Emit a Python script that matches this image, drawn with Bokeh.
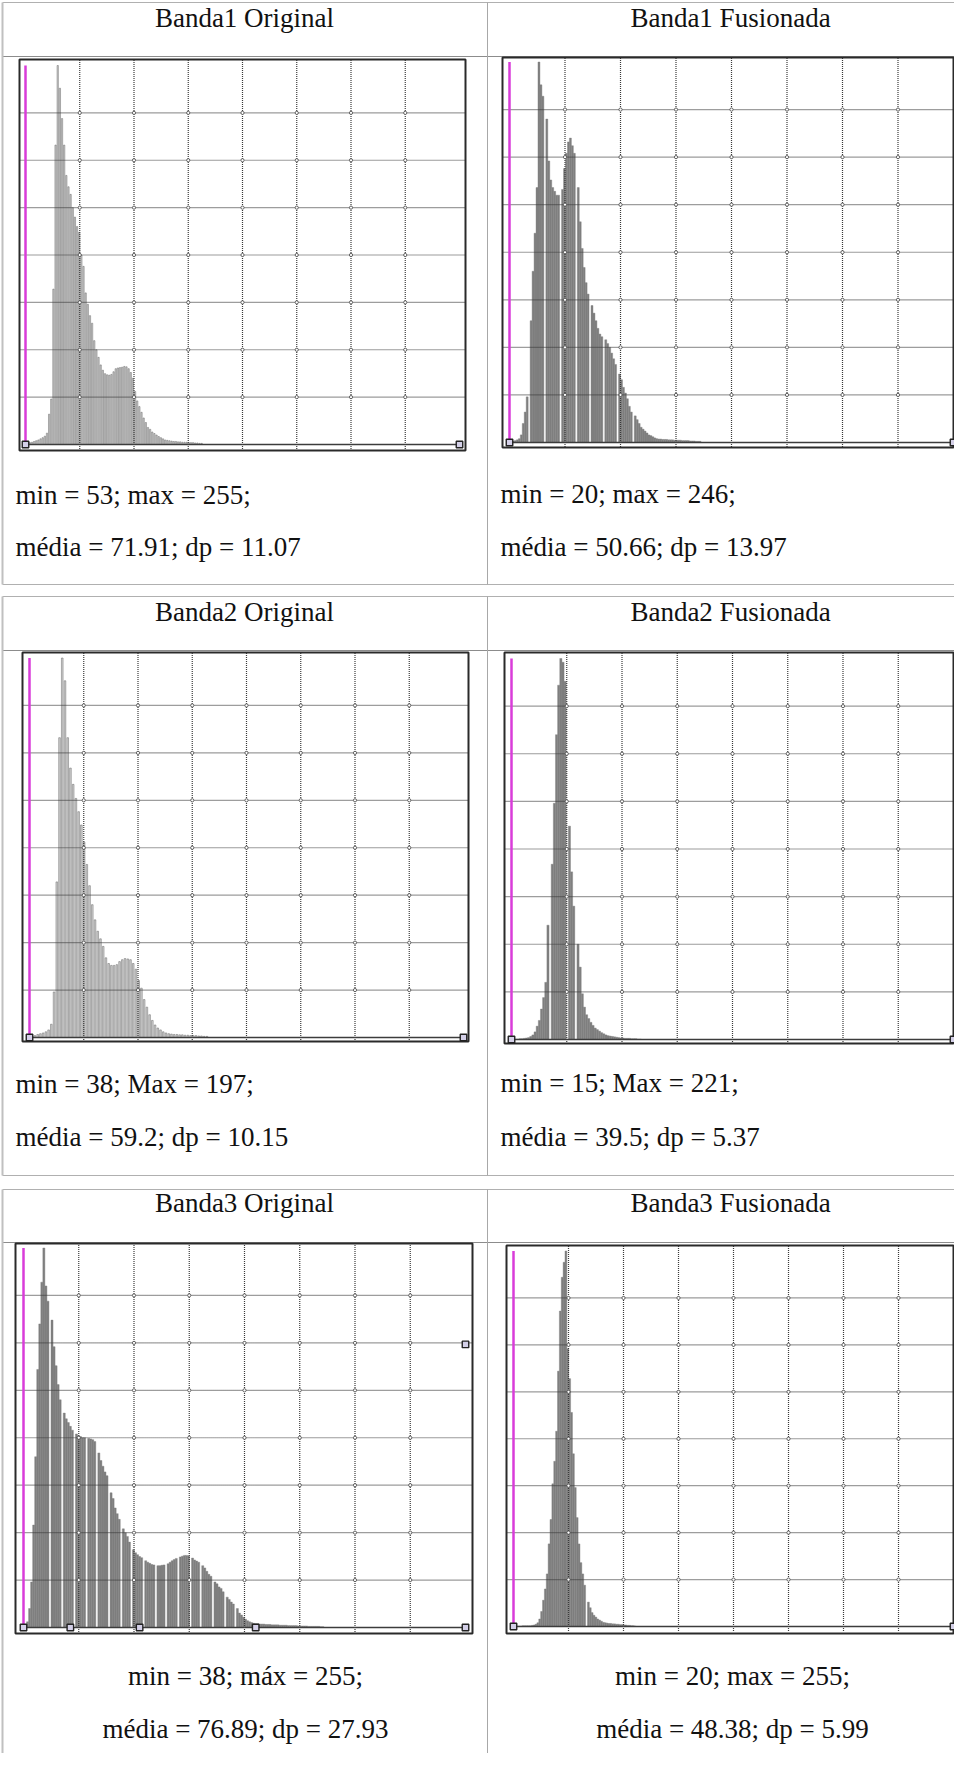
from bokeh.plotting import figure
from bokeh.models import Range1d
from bokeh.core.properties import value
from bokeh.embed import file_html
from bokeh.resources import INLINE

# ------------------------------------------------------------------ data
titles = ["Banda1 Original", "Banda1 Fusionada",
          "Banda2 Original", "Banda2 Fusionada",
          "Banda3 Original", "Banda3 Fusionada"]
band_min = [53, 20, 38, 15, 38, 20]
band_max = [255, 246, 197, 221, 255, 255]
stats_line1 = ["min = 53; max = 255;", "min = 20; max = 246;",
               "min = 38; Max = 197;", "min = 15; Max = 221;",
               "min = 38; máx = 255;", "min = 20; max = 255;"]
stats_line2 = ["média = 71.91; dp = 11.07", "média = 50.66; dp = 13.97",
               "média = 59.2; dp = 10.15", "média = 39.5; dp = 5.37",
               "média = 76.89; dp = 27.93", "média = 48.38; dp = 5.99"]

# relative frequency (fraction of the peak) per grey level, starting at band_min
hist_b1_original = [
    0, 0.004, 0.005, 0.006, 0.008, 0.01, 0.012, 0.015, 0.018, 0.022,
    0.03, 0.08, 0.12, 0.41, 0.79, 1.0, 0.94, 0.86, 0.79, 0.71,
    0.68, 0.66, 0.625, 0.6, 0.575, 0.56, 0.5, 0.47, 0.40, 0.37,
    0.34, 0.32, 0.274, 0.25, 0.23, 0.21, 0.196, 0.187, 0.184, 0.183,
    0.185, 0.192, 0.2, 0.202, 0.203, 0.204, 0.206, 0.205, 0.2, 0.19,
    0.175, 0.14, 0.115, 0.1, 0.085, 0.07, 0.058, 0.045, 0.04, 0.033,
    0.029, 0.025, 0.021, 0.018, 0.015, 0.012, 0.011, 0.01, 0.009, 0.008,
    0.008, 0.007, 0.007, 0.006, 0.006, 0.006, 0.005, 0.005, 0.005, 0.004,
    0.004, 0.003, 0.003]
hist_b1_fusionada = [
    0.002, 0.003, 0.004, 0.005, 0.007, 0.01, 0.02, 0.05, 0.08, 0.12,
    0, 0.32, 0.45, 0.55, 0.67, 1.0, 0.94, 0.91, 0, 0.85,
    0.74, 0.69, 0.67, 0.66, 0.65, 0.65, 0, 0.665, 0.72, 0.76,
    0.79, 0.80, 0.78, 0.76, 0, 0.67, 0.58, 0.51, 0.46, 0.42,
    0.39, 0, 0.36, 0.34, 0.32, 0.30, 0.285, 0.278, 0, 0.27,
    0.26, 0.25, 0.235, 0.22, 0.205, 0, 0.18, 0.165, 0.145, 0.13,
    0.115, 0.095, 0.08, 0, 0.07, 0.06, 0.05, 0.04, 0.035, 0.03,
    0.025, 0.02, 0.018, 0.015, 0.012, 0.01, 0.009, 0.009, 0.008, 0.008,
    0.008, 0.007, 0.007, 0.007, 0.006, 0.006, 0.006, 0.006, 0.005, 0.005,
    0.005, 0.005, 0.004, 0.004, 0.004, 0.003, 0.003, 0.003]
hist_b2_original = [
    0, 0.003, 0.005, 0.008, 0.01, 0.012, 0.015, 0.02, 0.035, 0.12,
    0.41, 0.79, 1.0, 0.94, 0.79, 0.71, 0.667, 0.63, 0.595, 0.56,
    0.515, 0.456, 0.40, 0.35, 0.31, 0.28, 0.26, 0.24, 0.21, 0.195,
    0.19, 0.19, 0.192, 0.2, 0.205, 0.208, 0.207, 0.205, 0.195, 0.18,
    0.15, 0.13, 0.1, 0.08, 0.06, 0.045, 0.033, 0.025, 0.02, 0.015,
    0.012, 0.01, 0.009, 0.008, 0.008, 0.007, 0.007, 0.006, 0.006, 0.005,
    0.005, 0.005, 0.004, 0.004, 0.003, 0.003]
hist_b2_fusionada = [
    0, 0.001, 0.001, 0.001, 0.002, 0.002, 0.003, 0.004, 0.005, 0.008,
    0.012, 0.02, 0.035, 0.05, 0.08, 0.11, 0.15, 0.3, 0, 0.46,
    0.62, 0.8, 0.93, 1.0, 0.99, 0.94, 0, 0.56, 0.44, 0.35,
    0, 0.25, 0.19, 0.12, 0.085, 0.065, 0.055, 0.045, 0.037, 0.03,
    0.026, 0.022, 0.018, 0.015, 0.012, 0.01, 0.009, 0.008, 0.007, 0.006,
    0.005, 0.004, 0.004, 0.003, 0.003, 0.003, 0.002, 0.002, 0.002, 0.001,
    0.001]
hist_b3_original = [
    0, 0.005, 0.015, 0.05, 0.12, 0.27, 0.45, 0.68, 0.8, 0.91,
    1.0, 0.9, 0.86, 0, 0.81, 0.74, 0.69, 0.64, 0.6, 0,
    0.565, 0.55, 0.54, 0.53, 0.52, 0, 0.51, 0.505, 0.503, 0.5,
    0.5, 0, 0.498, 0.497, 0.495, 0.49, 0, 0.46, 0.44, 0.425,
    0.41, 0.4, 0, 0.355, 0.34, 0.315, 0.3, 0.285, 0, 0.26,
    0.25, 0.24, 0.225, 0, 0.205, 0.197, 0.192, 0.187, 0.184, 0,
    0.176, 0.172, 0.169, 0.166, 0.165, 0, 0.163, 0.163, 0.164, 0.165,
    0, 0.168, 0.172, 0.176, 0.179, 0.182, 0, 0.186, 0.188, 0.19,
    0.19, 0.189, 0, 0.183, 0.178, 0.175, 0.172, 0, 0.163, 0.157,
    0.148, 0.14, 0.135, 0, 0.12, 0.115, 0.107, 0.103, 0.094, 0,
    0.08, 0.074, 0.067, 0.062, 0, 0.05, 0.038, 0.033, 0.027, 0.022,
    0.018, 0.015, 0.013, 0.011, 0.01, 0.01, 0.009, 0.009, 0.009, 0.008,
    0.008, 0.008, 0.007, 0.007, 0.007, 0.007, 0.006, 0.006, 0.006, 0.006,
    0.005, 0.005, 0.005, 0.005, 0.005, 0.004, 0.004, 0.004, 0.004, 0.004,
    0.003, 0.003, 0.003, 0.003, 0.003, 0.003, 0.002, 0.002]
hist_b3_fusionada = [
    0, 0.001, 0.001, 0.001, 0.001, 0.002, 0.002, 0.002, 0.002, 0.002,
    0.003, 0.004, 0.006, 0.01, 0.02, 0.04, 0.07, 0.1, 0.14, 0.22,
    0.285, 0.38, 0.44, 0.52, 0.68, 0.84, 0.93, 0.97, 1.0, 0.74,
    0.66, 0.57, 0.46, 0.37, 0.29, 0.22, 0.17, 0.14, 0.11, 0,
    0.065, 0.05, 0.037, 0.03, 0.025, 0.02, 0.017, 0.014, 0.011, 0.01,
    0.009, 0.008, 0.008, 0.007, 0.007, 0.006, 0.006, 0.005, 0.005, 0.004,
    0.004, 0.003, 0.003, 0.002, 0.002, 0.001]
histograms = [hist_b1_original, hist_b1_fusionada, hist_b2_original,
              hist_b2_fusionada, hist_b3_original, hist_b3_fusionada]
# extra slider handles visible on the Banda3 Original panel (grey levels)
b3_handle_levels = [61, 95, 152]
b3_side_handle = [255, 0.746]

# ------------------------------------------------------------------ layout / styles
M = 8
PAGE_W, PAGE_H = 954, 1753
X_LEFT, X_SEP, X_RIGHT = 10, 495, M + PAGE_W
ROW_TOP = [10, 604, 1197]
ROW_HEAD = [64, 658, 1250]
ROW_BOTTOM = [592, 1183, M + PAGE_H]
TEXT_SHIFT = 9
TITLE_X = [252, 738]
TITLE_BASE = [34 - TEXT_SHIFT, 628 - TEXT_SHIFT, 1219 - TEXT_SHIFT]
# data box (left px, right px, baseline px, top px) and outer frame (l, r, t, b)
DATA_BOX = [(33, 467, 452, 73), (517, 961, 450, 69.5),
            (37, 471, 1045, 665.5), (519, 961, 1047, 666),
            (31, 473, 1635, 1255.5), (521, 961, 1634, 1258.5)]
FRAME = [(27, 473, 67, 458), (510, 961, 65, 455),
         (30, 476, 660, 1049), (512, 961, 660, 1051),
         (23, 480, 1251, 1641), (514, 961, 1253, 1641)]
STATS_POS = [(23, 511, 563, "left"), (508, 510, 563, "left"),
             (23, 1100, 1153, "left"), (508, 1099, 1153, "left"),
             (253, 1692, 1745, "center"), (740, 1692, 1745, "center")]
LIGHT_BARS = [True, False, True, False, False, False]

FONT = value("Liberation Serif")
FSIZE = value("27px")
GRID_COLOR = "#3a3a3a"

p = figure(width=PAGE_W, height=PAGE_H,
           x_range=Range1d(M, M + PAGE_W), y_range=Range1d(M + PAGE_H, M),
           output_backend="svg", toolbar_location=None,
           x_axis_location=None, y_axis_location=None, min_border=0,
           outline_line_color=None, background_fill_color="white",
           border_fill_color="white")
p.grid.grid_line_color = None

# table lines
hx0, hx1, hy = [], [], []
for r in range(3):
    hx0 += [X_LEFT, X_LEFT]
    hx1 += [X_RIGHT, X_RIGHT]
    hy += [ROW_TOP[r], ROW_BOTTOM[r]]
p.segment(x0=hx0, y0=hy, x1=hx1, y1=hy, line_color="#b0b0b0", line_width=1)
p.segment(x0=[X_LEFT] * 3, y0=ROW_HEAD, x1=[X_RIGHT] * 3, y1=ROW_HEAD,
          line_color="#8c8c8c", line_width=1)
p.segment(x0=[X_LEFT] * 3, y0=ROW_TOP, x1=[X_LEFT] * 3, y1=ROW_BOTTOM,
          line_color="#c0c0c0", line_width=2)
p.segment(x0=[X_SEP] * 3, y0=ROW_TOP, x1=[X_SEP] * 3, y1=ROW_BOTTOM,
          line_color="#a8a8a8", line_width=1)

# titles
for c in range(2):
    p.text(x=[TITLE_X[c]] * 3, y=TITLE_BASE, text=[titles[c], titles[2 + c], titles[4 + c]],
           text_font=FONT, text_font_size=FSIZE, text_align="center",
           text_baseline="alphabetic", text_color="#111111")

# histogram panels
for i in range(6):
    lmin, lmax = band_min[i], band_max[i]
    x0, x1, yb, yt = DATA_BOX[i]
    fl, fr, ft, fb = FRAME[i]
    sx = (lmax - lmin) / (x1 - x0)
    sy = 1.0 / (yb - yt)
    xr, yr = f"hx{i}", f"hy{i}"
    p.extra_x_ranges[xr] = Range1d(lmin + (M - x0) * sx, lmin + (M + PAGE_W - x0) * sx)
    p.extra_y_ranges[yr] = Range1d((yb - (M + PAGE_H)) * sy, (yb - M) * sy)

    h = histograms[i]
    levels = [lmin + k for k in range(len(h))]
    if LIGHT_BARS[i]:
        p.vbar(x=levels, top=h, bottom=0, width=0.6, fill_color="#d2d2d2",
               line_color="#666666", line_width=0.5, x_range_name=xr, y_range_name=yr)
    else:
        p.vbar(x=levels, top=h, bottom=0, width=1.0, fill_color="#7f7f7f",
               line_color="#7f7f7f", line_width=0.4, x_range_name=xr, y_range_name=yr)

    # dotted grid: 8 x 8 cells
    step = (lmax - lmin) / 8.0
    gx = [lmin + k * step for k in range(1, 8)]
    gy = [k / 8.0 for k in range(1, 8)]
    top_h = (yb - ft) * sy
    left_l = lmin + (fl - x0) * sx
    right_l = lmin + (fr - x0) * sx
    p.segment(x0=gx, y0=[-0.012] * 7, x1=gx, y1=[top_h] * 7, line_color=GRID_COLOR,
              line_width=1.2, line_dash="1 1", x_range_name=xr, y_range_name=yr)
    p.segment(x0=[left_l] * 7, y0=gy, x1=[right_l] * 7, y1=gy, line_color=GRID_COLOR,
              line_width=1.2, line_dash="1 1", x_range_name=xr, y_range_name=yr)
    px_, py_ = [], []
    for a in gx:
        for b in gy:
            px_.append(a)
            py_.append(b)
    p.scatter(x=px_, y=py_, marker="circle", size=3.2, fill_color="white",
              line_color="#555555", line_width=0.9, x_range_name=xr, y_range_name=yr)

    # baseline, minimum cursor and frame
    p.segment(x0=[lmin], y0=[0], x1=[lmax], y1=[0], line_color="#3c3c3c",
              line_width=1.5, x_range_name=xr, y_range_name=yr)
    p.segment(x0=[lmin], y0=[0], x1=[lmin], y1=[1.0], line_color="#d93cd9",
              line_width=2.5, x_range_name=xr, y_range_name=yr)
    p.quad(left=[fl], right=[fr], top=[ft], bottom=[fb], fill_color=None,
           line_color="#2a2a2a", line_width=2)
    hxs, hys = [lmin, lmax], [0, 0]
    if i == 4:
        hxs += b3_handle_levels + [b3_side_handle[0]]
        hys += [0] * len(b3_handle_levels) + [b3_side_handle[1]]
    p.scatter(x=hxs, y=hys, marker="square", size=6.5, fill_color="#d4d0e8",
              line_color="#222222", line_width=1.4, x_range_name=xr, y_range_name=yr)

    # statistics text
    tx, b1, b2, al = STATS_POS[i]
    p.text(x=[tx, tx], y=[b1 - TEXT_SHIFT, b2 - TEXT_SHIFT],
           text=[stats_line1[i], stats_line2[i]],
           text_font=FONT, text_font_size=FSIZE, text_align=al,
           text_baseline="alphabetic", text_color="#111111")

open("out.html", "w").write(file_html(p, INLINE))
